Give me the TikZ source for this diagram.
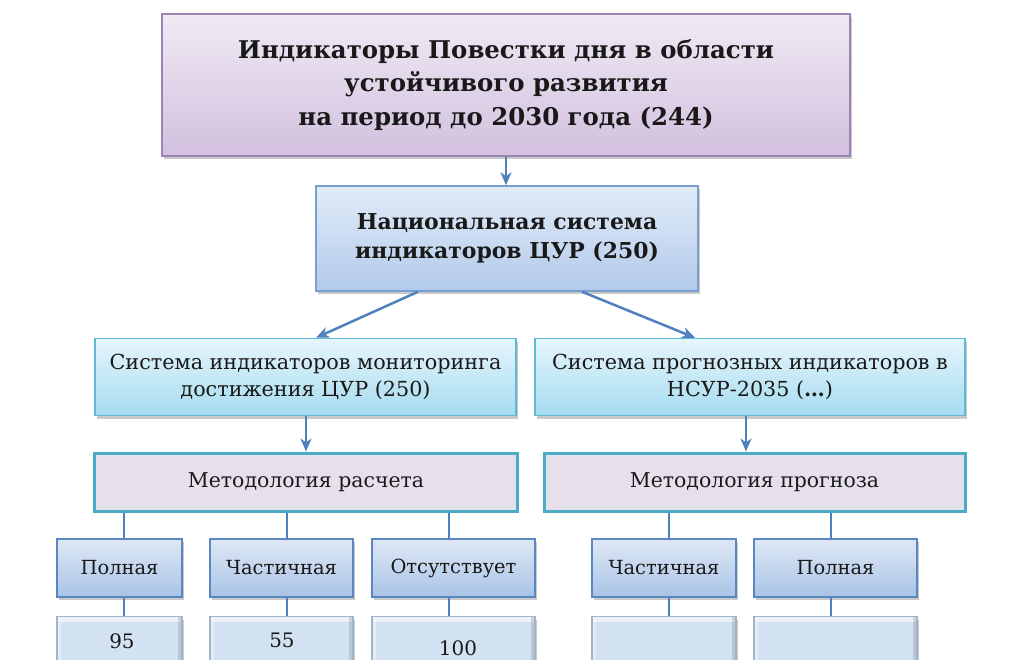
\documentclass[tikz,border=0pt]{standalone}
\usepackage{fontspec}
\setmainfont{DejaVu Serif}
\usetikzlibrary{arrows.meta,shadows,calc}
\definecolor{lineblue}{HTML}{4F81BD}
\definecolor{purpTop}{HTML}{F0EAF4}
\definecolor{purpBot}{HTML}{D2C0DE}
\definecolor{purpEdge}{HTML}{9A84B4}
\definecolor{natTop}{HTML}{E2ECF8}
\definecolor{natBot}{HTML}{B2C9EA}
\definecolor{natEdge}{HTML}{7A9ECF}
\definecolor{aquaTop}{HTML}{E6F5FC}
\definecolor{aquaBot}{HTML}{A6DCF0}
\definecolor{aquaEdge}{HTML}{5DB9D6}
\definecolor{metFill}{HTML}{E6E0EC}
\definecolor{metEdge}{HTML}{4BACC6}
\definecolor{smTop}{HTML}{DEE8F5}
\definecolor{smBot}{HTML}{A9C3E6}
\definecolor{smEdge}{HTML}{5A86C2}
\definecolor{botFill}{HTML}{D3E2F3}
\definecolor{botEdge}{HTML}{A2B4C8}
\tikzset{
  shad/.style={drop shadow={shadow xshift=2bp,shadow yshift=-3bp,opacity=0.35,fill=black!60}},
  basebox/.style={rectangle,inner sep=0pt,align=center,text=black!90,shad},
  topbox/.style={basebox,top color=purpTop,bottom color=purpBot,draw=purpEdge,line width=1.5bp,font=\bfseries\fontsize{24.5}{34}\selectfont},
  natbox/.style={basebox,top color=natTop,bottom color=natBot,draw=natEdge,line width=1.5bp,font=\bfseries\fontsize{22}{29}\selectfont},
  aquabox/.style={basebox,top color=aquaTop,bottom color=aquaBot,draw=aquaEdge,line width=1.5bp,font=\fontsize{20.8}{27}\selectfont},
  metbox/.style={rectangle,inner sep=0pt,fill=metFill,draw=metEdge,line width=3bp,font=\fontsize{20.5}{24}\selectfont,text=black!90},
  smbox/.style={basebox,top color=smTop,bottom color=smBot,draw=smEdge,line width=1.2bp,font=\fontsize{19.5}{22}\selectfont},
  botbox/.style={basebox,fill=botFill,draw=botEdge,line width=1.2bp,
    path picture={
      \fill[white,opacity=0.55] (path picture bounding box.north west) rectangle ([yshift=-5bp]path picture bounding box.north east);
      \fill[black,opacity=0.12] ([xshift=-4bp]path picture bounding box.north east) rectangle (path picture bounding box.south east);
      \fill[white,opacity=0.35] (path picture bounding box.north west) rectangle ([xshift=4bp]path picture bounding box.south west);
    }},
  numtxt/.style={inner sep=0pt,font=\fontsize{20}{22}\selectfont,text=black!90},
  arr/.style={draw=lineblue,line width=2.5bp,-{Stealth[length=13bp,width=11bp,inset=4bp]}},
  conn/.style={draw=lineblue,line width=2.5bp}
}
\begin{document}
\begin{tikzpicture}[x=1bp,y=-1bp]
\useasboundingbox[fill=white] (0,0) rectangle (1024,660);
% boxes
\node[topbox,minimum width=688bp,minimum height=142bp] (top) at (506,85)
  {Индикаторы Повестки дня в области\\устойчивого развития\\на период до 2030 года (244)};
\node[natbox,minimum width=382bp,minimum height=105bp] (nat) at (507,238.5)
  {Национальная система\\индикаторов ЦУР (250)};
\node[aquabox,minimum width=421bp,minimum height=77bp] (mon) at (305.5,377)
  {Система индикаторов мониторинга\\достижения ЦУР (250)};
\node[aquabox,minimum width=430bp,minimum height=77bp] (prog) at (750,377)
  {Система прогнозных индикаторов в\\НСУР-2035 (\textbf{…})};
\node[metbox,minimum width=422bp,minimum height=58bp] (met1) at (306,482) {Методология расчета};
\node[metbox,minimum width=421bp,minimum height=58bp] (met2) at (754.5,482) {Методология прогноза};
% small boxes
\node[smbox,minimum width=125bp,minimum height=58bp] (p1) at (119.5,568) {Полная};
\node[smbox,minimum width=143bp,minimum height=58bp] (c1) at (281.5,568) {Частичная};
\node[smbox,minimum width=163bp,minimum height=58bp] (o1) at (453.5,568) {Отсутствует};
\node[smbox,minimum width=144bp,minimum height=58bp] (c2) at (664,568) {Частичная};
\node[smbox,minimum width=163bp,minimum height=58bp] (p2) at (835.5,568) {Полная};
% bottom boxes
\node[botbox,minimum width=125bp,minimum height=80bp,anchor=north] (b1) at (119.5,616) {};
\node[botbox,minimum width=143bp,minimum height=80bp,anchor=north] (b2) at (281.5,616) {};
\node[botbox,minimum width=163bp,minimum height=80bp,anchor=north] (b3) at (453.5,616) {};
\node[botbox,minimum width=144bp,minimum height=80bp,anchor=north] (b4) at (664,616) {};
\node[botbox,minimum width=163bp,minimum height=80bp,anchor=north] (b5) at (835.5,616) {};
\node[numtxt] (n1) at (122,641) {95};
\node[numtxt] (n2) at (282,640) {55};
\node[numtxt] (n3) at (458,648.5) {100};
% arrows
\draw[arr] (top.south) -- (top.south |- nat.north);
\coordinate (a1s) at (418,291);
\coordinate (a1e) at (316,338);
\coordinate (a2s) at (582,291);
\coordinate (a2e) at (695,338);
\draw[arr] (a1s |- nat.south) -- (a1e |- mon.north);
\draw[arr] (a2s |- nat.south) -- (a2e |- prog.north);
\coordinate (x1) at (306,0);
\coordinate (x2) at (746,0);
\draw[arr] (x1 |- mon.south) -- (x1 |- met1.north);
\draw[arr] (x2 |- prog.south) -- (x2 |- met2.north);
% connectors
\foreach \xx/\s/\b in {124/p1/b1,287/c1/b2,449/o1/b3}{
  \coordinate (cx) at (\xx,0);
  \draw[conn] (cx |- met1.south) -- (cx |- \s.north);
  \draw[conn] (cx |- \s.south) -- (cx |- \b.north);
}
\foreach \xx/\s/\b in {669/c2/b4,831/p2/b5}{
  \coordinate (cx) at (\xx,0);
  \draw[conn] (cx |- met2.south) -- (cx |- \s.north);
  \draw[conn] (cx |- \s.south) -- (cx |- \b.north);
}
\end{tikzpicture}
\end{document}
